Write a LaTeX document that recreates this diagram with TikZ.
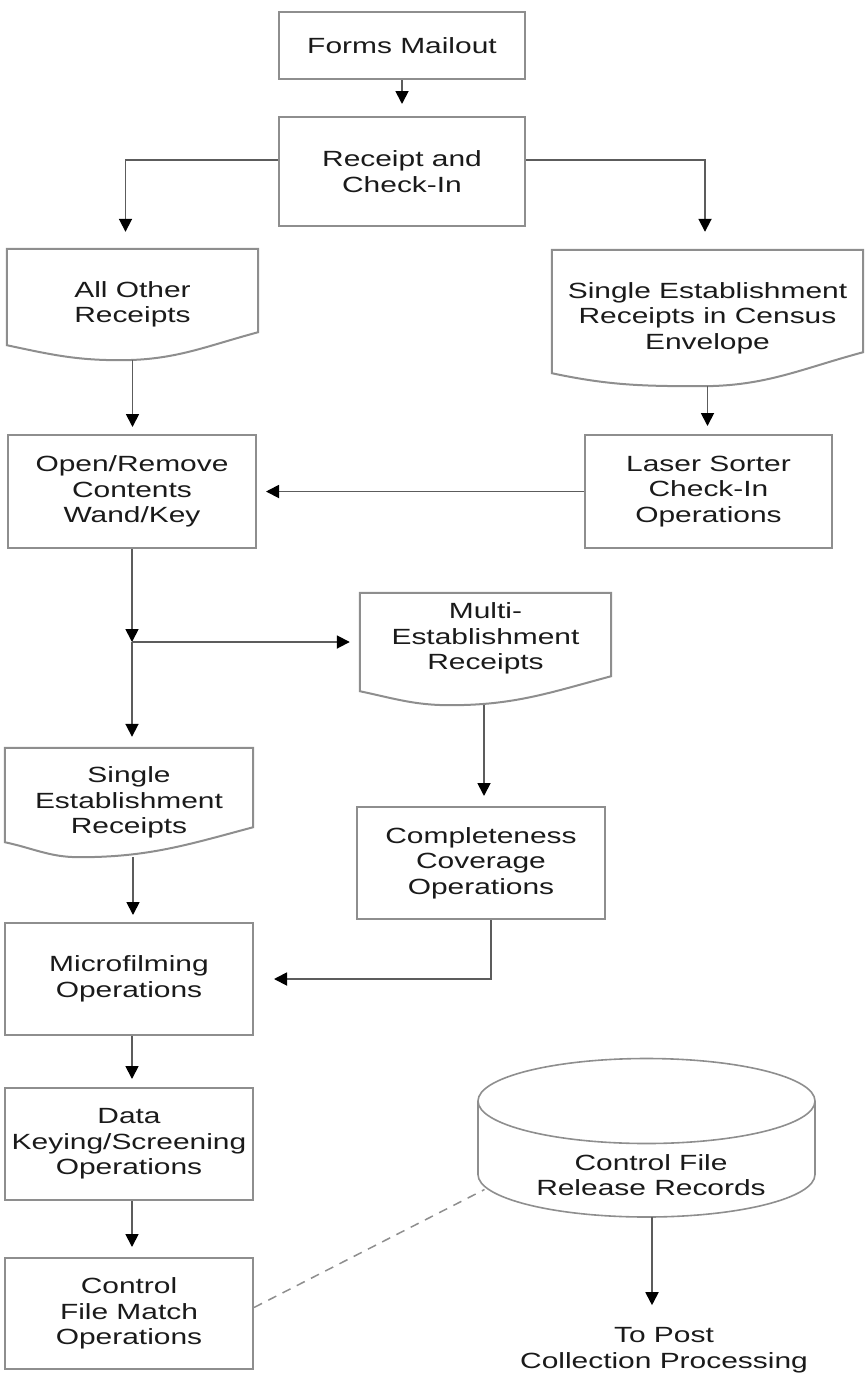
\documentclass[tikz,border=0pt]{standalone}
\usepackage{fontspec}
\setmainfont{Liberation Sans}[FakeStretch=1.36]
\usetikzlibrary{arrows.meta,calc}
\definecolor{boxgray}{HTML}{8E8E8E}
\definecolor{linegray}{HTML}{5C5C5C}
\definecolor{txtcol}{HTML}{1A1A1A}
\newcommand{\docoutline}[4]{%
  \draw[boxline] (#1.north west) -- (#1.north east) -- ([yshift=#3]#1.south east)
    to[out=195,in=0] ($(#1.south west)!#4!(#1.south east)$)
    to[out=180,in=-12] ([yshift=#2]#1.south west) -- cycle;}
\begin{document}
\begin{tikzpicture}[x=1pt,y=1pt,
  every node/.style={font=\fontsize{22}{25.5}\selectfont, text=txtcol, align=center, inner sep=0pt},
  boxline/.style={draw=boxgray, line width=2pt},
  procbox/.style={boxline, rectangle},
  docbox/.style={rectangle, draw=none},
  conn/.style={draw=linegray, line width=1.8pt, -{Triangle[width=13pt,length=13pt,color=black]}},
  dashconn/.style={draw=boxgray, line width=1.5pt, dash pattern=on 9pt off 7pt}
]
\useasboundingbox (0,0) rectangle (865,-1376);

% nodes
\node[procbox, minimum width=246, minimum height=67] (forms) at (402,-45.5) {Forms Mailout};
\node[procbox, minimum width=246, minimum height=109] (receipt) at (402,-171.5) {Receipt and\\Check-In};
\node[docbox, minimum width=251, minimum height=111] (allother) at (132.5,-304.5) {All Other\\Receipts};
\node[docbox, minimum width=311, minimum height=136] (singleenv) at (707.5,-318) {Single Establishment\\Receipts in Census\\Envelope};
\node[procbox, minimum width=248, minimum height=113] (open) at (132,-491.5) {Open/Remove\\Contents\\Wand/Key};
\node[procbox, minimum width=247, minimum height=113] (laser) at (708.5,-491.5) {Laser Sorter\\Check-In\\Operations};
\node[docbox, minimum width=251, minimum height=112] (multi) at (485.5,-649) {Multi-\\Establishment\\Receipts\\~};
\node[docbox, minimum width=248, minimum height=109] (single) at (129,-802.5) {Single\\Establishment\\Receipts};
\node[procbox, minimum width=248, minimum height=112] (compl) at (481,-863) {Completeness\\Coverage\\Operations};
\node[procbox, minimum width=248, minimum height=112] (micro) at (129,-979) {Microfilming\\Operations};
\node[procbox, minimum width=248, minimum height=112] (data) at (129,-1144) {Data\\Keying/Screening\\Operations};
\node[procbox, minimum width=248, minimum height=111] (cfm) at (129,-1313.5) {Control\\File Match\\Operations};
\node (cyl) at (651,-1175) {Control File\\Release Records};
\node (post) at (664,-1350) {To Post\\Collection Processing};

% document outlines
\docoutline{allother}{15pt}{28pt}{0.45}
\docoutline{singleenv}{13pt}{34pt}{0.48}
\docoutline{multi}{14pt}{29pt}{0.36}
\docoutline{single}{15pt}{30pt}{0.30}

% cylinder
\coordinate (cyltop) at ($(cyl.center)+(-4.5,74)$);
\coordinate (cylbc) at ($(cyl.center)+(-4.5,0.5)$);
\draw[boxline, line width=1.6pt] (cyltop) ellipse [x radius=168.5, y radius=42.5];
\draw[boxline, line width=1.6pt] ($(cyltop)+(-168.5,0)$) -- ($(cylbc)+(-168.5,0)$)
  arc[start angle=180, end angle=360, x radius=168.5, y radius=42.5] -- ($(cyltop)+(168.5,0)$);
\coordinate (cylbot) at ($(cylbc)+(5.5,-42.5)$);
\coordinate (cyldash) at ($(cylbc)+(-162,-15)$);

% connectors
\coordinate (jn) at (132,-642);
\draw[conn, shorten >=12pt] (forms) -- (receipt);
\draw[conn, shorten >=17pt] ([yshift=11.5pt]receipt.west) -| ([xshift=-7pt]allother.north);
\draw[conn, shorten >=18pt] ([yshift=11.5pt]receipt.east) -| ([xshift=-2.5pt]singleenv.north);
\draw[conn, shorten >=7pt] (allother.south) -- (allother.south |- open.north);
\draw[conn, shorten >=8pt] (singleenv.south) -- (singleenv.south |- laser.north);
\draw[conn, shorten >=9pt] (laser.west) -- (open.east);
\draw[conn] (open.south) -- (jn);
\draw[conn, shorten >=11pt] (jn) -- (jn |- single.north);
\draw[conn, shorten >=10pt] (jn) -- (jn -| multi.west);
\draw[conn, shorten >=10pt] ([xshift=-1.5pt]multi.south) -- ([xshift=-1.5pt]multi.south |- compl.north);
\draw[conn, shorten >=7pt] ([xshift=4pt]single.south) -- ([xshift=4pt]single.south |- micro.north);
\draw[conn, shorten >=20pt] ([xshift=10pt]compl.south) |- (micro.east);
\draw[conn, shorten >=8pt] ([xshift=3pt]micro.south) -- ([xshift=3pt]micro.south |- data.north);
\draw[conn, shorten >=10pt] ([xshift=3pt]data.south) -- ([xshift=3pt]data.south |- cfm.north);
\draw[dashconn] ([yshift=6pt]cfm.east) -- (cyldash);
\draw[conn, shorten >=22pt] (cylbot) -- (cylbot |- post.north);
\end{tikzpicture}
\end{document}
